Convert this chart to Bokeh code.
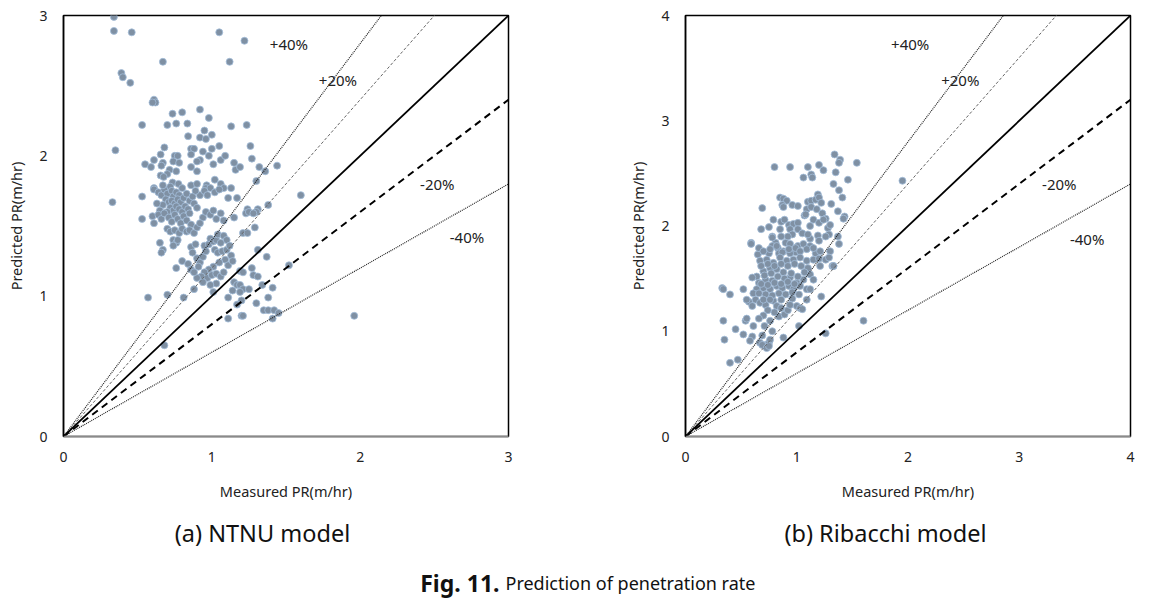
from bokeh.plotting import figure
from bokeh.layouts import column, row
from bokeh.models import Range1d, FixedTicker, ColumnDataSource
from bokeh.core.properties import value
from bokeh.embed import file_html
from bokeh.resources import INLINE

# ---------------- data ----------------
ntnu_points = [
    (0.34, 2.99), (0.34, 2.89), (0.46, 2.88), (1.05, 2.88), (1.22, 2.82), (0.67, 2.67), (1.12, 2.67),
    (0.39, 2.59), (0.40, 2.56), (0.45, 2.52), (0.61, 2.40), (0.62, 2.38), (0.60, 2.38), (0.735, 2.30),
    (0.80, 2.31), (0.92, 2.33), (0.98, 2.27), (0.53, 2.22), (0.70, 2.22), (0.76, 2.23), (0.835, 2.23),
    (1.13, 2.21), (1.235, 2.22), (0.35, 2.04), (0.33, 1.67),
    (0.84, 2.14), (0.92, 2.13), (0.95, 2.18), (1.00, 2.15), (0.96, 2.12), (0.68, 2.06), (0.655, 2.01),
    (0.61, 1.97), (0.55, 1.94), (0.59, 1.92), (0.67, 1.95), (0.66, 1.93), (0.75, 2.00), (0.77, 2.00),
    (0.74, 1.96), (0.78, 1.95), (0.86, 2.05), (0.88, 2.05), (0.94, 2.03), (1.00, 2.05), (1.05, 2.07),
    (0.98, 2.00), (0.86, 2.01), (0.92, 1.97), (0.90, 1.96), (1.01, 1.94), (1.06, 1.97), (1.09, 2.00),
    (0.86, 1.92), (0.90, 1.89), (0.715, 1.90), (0.70, 1.87), (0.76, 1.89), (0.655, 1.86), (0.675, 1.85),
    (0.735, 1.81), (0.775, 1.80), (0.86, 1.79), (0.90, 1.80), (0.965, 1.79), (0.96, 1.77), (0.99, 1.77),
    (1.02, 1.83), (1.06, 1.80), (1.08, 1.77), (1.13, 1.77), (1.15, 1.95), (1.16, 1.90), (1.19, 1.92),
    (1.26, 2.07), (1.27, 1.98), (1.32, 1.92), (1.36, 1.89), (1.44, 1.93), (1.30, 1.82), (0.61, 1.77),
    (0.61, 1.76), (0.53, 1.71),
    (0.64, 1.74), (0.66, 1.72), (0.68, 1.76), (0.70, 1.73), (0.72, 1.78), (0.73, 1.75), (0.74, 1.71),
    (0.76, 1.74), (0.78, 1.72), (0.69, 1.69), (0.71, 1.67), (0.73, 1.68), (0.75, 1.66), (0.77, 1.69),
    (0.79, 1.67), (0.81, 1.70), (0.83, 1.73), (0.85, 1.68), (0.87, 1.71), (0.72, 1.63), (0.74, 1.61),
    (0.76, 1.64), (0.78, 1.62), (0.80, 1.60), (0.82, 1.64), (0.84, 1.62), (0.67, 1.65), (0.65, 1.61),
    (0.63, 1.66), (0.70, 1.60), (0.88, 1.66), (0.90, 1.63), (0.92, 1.72), (0.89, 1.75), (0.95, 1.75),
    (0.97, 1.72), (1.02, 1.74), (1.05, 1.76), (1.11, 1.70), (1.17, 1.70), (1.24, 1.62), (1.31, 1.62),
    (1.38, 1.65), (0.67, 1.79), (0.80, 1.77),
    (0.60, 1.57), (0.61, 1.52), (0.53, 1.55), (0.64, 1.58), (0.66, 1.55), (0.68, 1.59), (0.71, 1.56),
    (0.73, 1.53), (0.75, 1.58), (0.77, 1.55), (0.79, 1.52), (0.81, 1.57), (0.83, 1.54), (0.85, 1.59),
    (0.86, 1.51), (0.70, 1.48), (0.72, 1.46), (0.75, 1.47), (0.78, 1.45), (0.80, 1.48), (0.83, 1.46),
    (0.85, 1.47), (0.88, 1.45), (0.90, 1.49), (0.94, 1.56), (0.96, 1.60), (0.99, 1.58), (1.01, 1.61),
    (1.03, 1.55), (1.06, 1.59), (1.08, 1.54), (1.15, 1.56), (1.23, 1.59), (1.25, 1.60), (1.30, 1.60),
    (1.28, 1.59), (1.21, 1.45), (1.24, 1.45), (1.29, 1.49), (0.92, 1.52),
    (0.65, 1.38), (0.67, 1.33), (0.66, 1.31), (0.74, 1.40), (0.76, 1.38), (0.77, 1.40), (0.74, 1.36),
    (0.80, 1.25), (0.76, 1.20), (0.84, 1.23), (0.86, 1.19), (0.86, 1.35), (0.89, 1.37), (0.87, 1.31),
    (0.90, 1.27), (0.92, 1.24), (0.94, 1.28), (0.96, 1.32), (0.95, 1.36), (0.98, 1.37), (0.99, 1.41),
    (1.01, 1.39), (1.03, 1.40), (1.04, 1.44), (1.08, 1.43), (1.10, 1.40), (1.06, 1.38), (1.02, 1.33),
    (1.04, 1.31), (1.07, 1.32), (1.10, 1.33), (1.12, 1.36), (1.13, 1.29), (1.09, 1.26), (1.05, 1.24),
    (1.01, 1.21), (0.98, 1.19), (0.95, 1.17), (0.93, 1.14), (0.97, 1.13), (1.00, 1.15), (1.03, 1.16),
    (1.06, 1.14), (1.08, 1.17), (1.03, 1.09), (0.99, 1.08), (0.94, 1.10), (0.90, 1.13), (0.88, 1.17),
    (0.91, 1.21), (1.11, 1.22), (1.14, 1.25), (1.31, 1.33),
    (1.19, 1.18), (1.21, 1.17), (1.27, 1.20), (1.28, 1.15), (1.31, 1.14), (1.15, 1.10), (1.17, 1.08),
    (1.19, 1.08), (1.21, 1.05), (1.14, 1.04), (1.19, 1.03), (1.25, 1.05), (1.34, 1.08), (1.38, 0.99),
    (1.11, 0.99), (1.01, 1.03), (0.88, 1.05), (1.20, 0.97), (1.17, 0.94), (1.30, 0.95), (1.35, 0.90),
    (1.38, 0.90), (1.42, 0.90), (1.45, 0.88), (1.41, 0.84), (1.11, 0.84), (1.20, 0.86), (1.21, 0.86),
    (0.81, 0.99), (1.41, 1.06), (1.37, 1.28), (0.70, 1.01), (0.57, 0.99), (0.68, 0.65), (1.52, 1.22),
    (1.60, 1.72), (1.96, 0.86),
]

ribacchi_points = [
    (1.34, 2.68), (1.39, 2.63), (1.38, 2.60), (1.54, 2.60), (0.80, 2.56), (0.94, 2.56), (1.10, 2.56),
    (1.20, 2.58), (1.24, 2.53), (1.06, 2.46), (1.13, 2.49), (1.14, 2.46), (1.35, 2.51), (1.46, 2.44),
    (1.38, 2.34), (1.41, 2.27), (1.95, 2.43),
    (0.69, 2.17), (0.85, 2.27), (0.88, 2.26), (0.91, 2.24), (0.87, 2.20), (0.88, 2.18), (0.96, 2.20),
    (1.01, 2.19), (1.10, 2.23), (1.13, 2.24), (1.17, 2.25), (1.19, 2.30), (1.20, 2.27), (1.22, 2.22),
    (1.09, 2.16), (1.13, 2.18), (1.31, 2.21), (1.37, 2.14), (1.43, 2.09), (1.42, 2.07), (1.23, 2.12),
    (1.26, 2.07), (1.07, 2.10), (0.79, 2.06), (0.86, 2.04), (0.89, 2.06), (1.08, 2.11), (1.18, 2.16),
    (0.75, 1.99), (0.85, 1.97), (0.93, 2.01), (0.97, 2.02), (1.01, 2.03), (0.94, 1.97), (1.01, 1.97),
    (1.05, 1.93), (1.12, 2.00), (1.15, 2.06), (1.20, 2.03), (1.24, 2.06), (1.28, 1.98), (1.30, 2.01),
    (1.29, 1.92), (1.26, 1.90), (1.37, 1.90), (1.38, 1.83), (1.19, 1.91), (1.20, 1.86), (1.12, 1.88),
    (1.10, 1.92), (0.96, 1.92), (0.92, 1.90), (0.86, 1.90), (0.78, 1.90), (0.81, 1.84), (0.78, 1.81),
    (0.83, 1.79), (0.90, 1.84), (0.94, 1.83), (1.01, 1.81), (1.06, 1.83), (1.12, 1.81), (1.17, 1.74),
    (0.99, 1.75), (0.94, 1.74), (0.88, 1.76), (0.84, 1.74), (0.59, 1.84), (0.65, 1.73), (0.75, 1.74),
    (0.68, 1.97), (0.78, 1.89),
    (0.66, 1.79), (0.70, 1.76), (0.76, 1.78), (0.82, 1.81), (0.87, 1.75), (0.93, 1.78), (0.99, 1.79),
    (1.03, 1.76), (1.09, 1.78), (1.15, 1.79), (1.21, 1.76), (1.30, 1.76), (0.67, 1.67), (0.73, 1.68),
    (0.79, 1.65), (0.85, 1.70), (0.91, 1.67), (0.97, 1.68), (1.03, 1.70), (1.09, 1.67), (1.15, 1.68),
    (1.20, 1.69), (1.26, 1.68), (1.32, 1.62), (1.21, 1.62), (1.29, 1.70), (1.33, 1.62),
    (1.12, 1.54), (1.15, 1.49), (1.06, 1.49), (1.00, 1.46), (0.94, 1.51), (0.88, 1.56), (0.82, 1.59),
    (0.76, 1.60), (0.70, 1.57), (0.64, 1.52), (0.60, 1.51), (0.66, 1.46), (0.72, 1.49), (0.78, 1.48),
    (0.82, 1.43), (0.87, 1.41), (0.93, 1.43), (0.97, 1.40), (1.03, 1.43), (1.09, 1.40), (1.12, 1.40),
    (0.96, 1.31), (1.00, 1.24), (1.03, 1.22), (1.05, 1.21), (1.09, 1.30), (1.22, 1.33), (0.76, 1.40),
    (0.70, 1.41), (0.64, 1.40), (0.61, 1.36), (0.63, 1.30), (0.67, 1.27), (0.72, 1.25), (0.79, 1.29),
    (0.82, 1.24), (0.84, 1.14), (0.89, 1.16), (0.76, 1.10), (0.71, 1.05), (0.78, 1.00), (0.61, 1.05),
    (0.60, 0.95), (0.69, 0.96), (0.67, 0.89), (0.72, 0.87), (0.75, 0.89), (0.76, 0.92), (0.88, 0.94),
    (1.02, 1.05), (1.26, 0.98), (1.60, 1.10), (0.69, 0.87), (0.73, 0.84), (1.33, 2.40), (1.33, 1.62),
    (0.68, 1.62), (0.74, 1.64), (0.80, 1.62), (0.86, 1.64), (0.92, 1.62), (0.98, 1.64), (1.04, 1.62),
    (1.10, 1.60), (0.71, 1.53), (0.77, 1.55), (0.83, 1.52), (0.89, 1.50), (0.95, 1.55), (1.01, 1.52),
    (1.07, 1.56), (0.68, 1.45), (0.74, 1.44), (0.80, 1.46), (0.86, 1.45), (0.92, 1.47), (0.98, 1.45),
    (0.66, 1.36), (0.72, 1.35), (0.78, 1.34), (0.84, 1.36), (0.90, 1.35), (0.96, 1.37), (1.02, 1.35),
    (0.70, 1.30), (0.76, 1.30), (0.86, 1.30), (0.74, 1.20), (0.80, 1.18), (0.86, 1.22), (0.92, 1.20),
    (0.94, 1.25), (0.70, 1.15), (0.66, 1.12),
    (0.33, 1.41), (0.34, 1.40), (0.40, 1.35), (0.52, 1.40), (0.34, 1.10), (0.35, 0.92), (0.45, 1.02),
    (0.52, 0.97), (0.54, 1.10), (0.55, 1.12), (0.58, 0.91), (0.40, 0.70), (0.47, 0.73), (0.75, 0.86),
    (0.57, 1.28), (0.60, 1.24), (0.55, 1.30), (0.59, 1.83),
]

slopes = [1.4, 1.2, 1.0, 0.8, 0.6]
band_labels = ["+40%", "+20%", "-20%", "-40%"]
ntnu_label_x = [1.52, 1.85, 2.52, 2.72]
ntnu_label_y = [2.80, 2.54, 1.80, 1.42]
rib_label_x = [2.02, 2.47, 3.36, 3.61]
rib_label_y = [3.73, 3.39, 2.40, 1.88]
ntnu_ticks = [0, 1, 2, 3]
rib_ticks = [0, 1, 2, 3, 4]

FONT = "Noto Sans"
line_styles = {
    1.4: dict(line_color="#222222", line_width=1.2, line_dash="1 1"),
    1.2: dict(line_color="#666666", line_width=1.0, line_dash="3 2"),
    1.0: dict(line_color="black", line_width=1.8, line_dash="solid"),
    0.8: dict(line_color="black", line_width=2.0, line_dash="7 5"),
    0.6: dict(line_color="#222222", line_width=1.2, line_dash="1 1"),
}


def panel(points, lim, ticks, lab_x, lab_y, width, left_border, right_border):
    p = figure(width=width, height=512, output_backend="svg", toolbar_location=None,
               x_range=Range1d(0, lim), y_range=Range1d(0, lim),
               min_border_left=left_border, min_border_right=right_border,
               min_border_top=15, min_border_bottom=76)
    p.grid.visible = False
    p.outline_line_color = "black"
    p.outline_line_width = 1.5
    p.background_fill_color = "white"
    p.border_fill_color = "white"
    xs = [pt[0] for pt in points]
    ys = [pt[1] for pt in points]
    p.scatter(xs, ys, size=7, fill_color="#7f90a3", line_color="#a3bedb", line_width=0.8)
    for k in slopes:
        p.line([0, lim], [0, k * lim], **line_styles[k])
    src = ColumnDataSource(dict(x=lab_x, y=lab_y, t=band_labels))
    p.text(x="x", y="y", text="t", source=src, text_font=value(FONT), text_font_size="15px",
           text_align="center", text_baseline="middle", text_color="#222222")
    for ax in (p.xaxis[0], p.yaxis[0]):
        ax.ticker = FixedTicker(ticks=ticks)
        ax.major_tick_line_color = None
        ax.minor_tick_line_color = None
        ax.major_tick_out = 0
        ax.major_tick_in = 0
        ax.minor_tick_out = 0
        ax.minor_tick_in = 0
        ax.major_label_text_font = FONT
        ax.major_label_text_font_size = "14px"
        ax.major_label_text_color = "#222222"
        ax.axis_label_text_font = FONT
        ax.axis_label_text_font_size = "14.5px"
        ax.axis_label_text_font_style = "normal"
        ax.axis_label_text_color = "#222222"
    p.xaxis.axis_label = "Measured PR(m/hr)"
    p.yaxis.axis_label = "Predicted PR(m/hr)"
    p.xaxis.axis_line_color = "#8a8a8a"
    p.xaxis.axis_line_width = 1.5
    p.yaxis.axis_line_color = "black"
    p.yaxis.axis_line_width = 1.5
    p.xaxis.major_label_standoff = 15
    p.xaxis.axis_label_standoff = 16
    p.yaxis.major_label_standoff = 16
    p.yaxis.axis_label_standoff = 10
    return p


p1 = panel(ntnu_points, 3, ntnu_ticks, ntnu_label_x, ntnu_label_y, 620, 63, 112)
p2 = panel(ribacchi_points, 4, rib_ticks, rib_label_x, rib_label_y, 534, 65, 24)

# caption strip (x/y in pixels of the strip)
cap = figure(width=1154, height=88, output_backend="svg", toolbar_location=None,
             x_range=Range1d(0, 1154), y_range=Range1d(88, 0),
             min_border=0)
cap.axis.visible = False
cap.grid.visible = False
cap.outline_line_color = None
cap.text(x=[262, 885], y=[20, 20], text=["(a) NTNU model", "(b) Ribacchi model"],
         text_font=value(FONT), text_font_size="23.5px", text_align="center",
         text_baseline="middle", text_color="#111111")
cap.text(x=[499], y=[70], text=["Fig. 11."], text_font=value(FONT), text_font_size="23px",
         text_font_style="bold", text_align="right", text_baseline="middle", text_color="#111111")
cap.text(x=[505], y=[70], text=["Prediction of penetration rate"], text_font=value(FONT),
         text_font_size="18px", text_align="left", text_baseline="middle", text_color="#111111")

layout = column(row(p1, p2, spacing=0), cap, spacing=0)
open("out.html", "w").write(file_html(layout, INLINE))
